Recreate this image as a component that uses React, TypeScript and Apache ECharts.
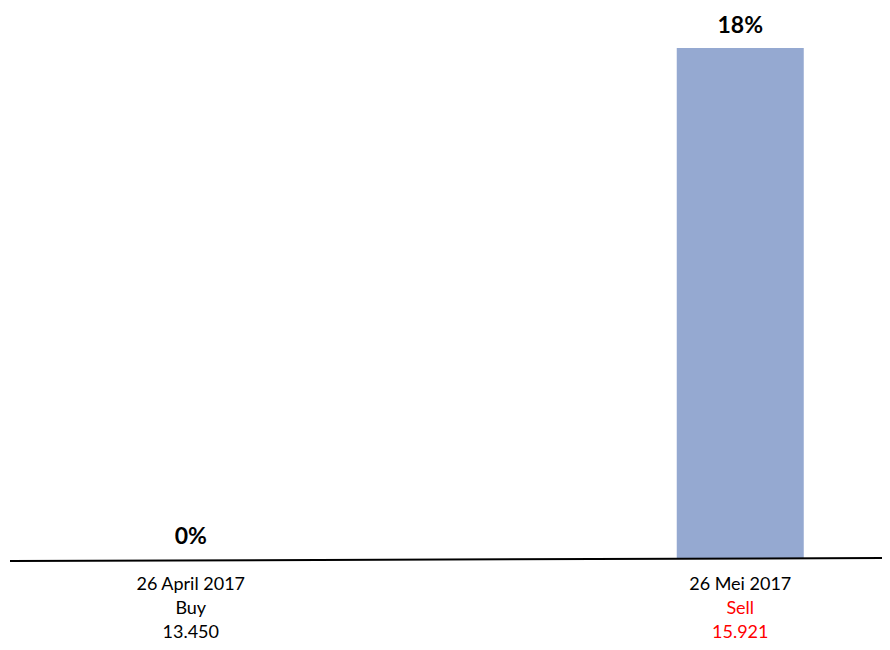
import React, { useEffect, useRef } from "react";
import * as echarts from "echarts";

const dates = ["26 April 2017", "26 Mei 2017"];
const actions = ["Buy", "Sell"];
const prices = ["13.450", "15.921"];
const returns = [0, 18];

export default function App() {
  const ref = useRef<HTMLDivElement>(null);
  useEffect(() => {
    if (!ref.current) return;
    const chart = echarts.init(ref.current, null, { renderer: "svg" });
    chart.setOption({
      animation: false,
      textStyle: { fontFamily: "Lato, 'Open Sans', sans-serif" },
      grid: { left: -84, width: 1099, top: 48, bottom: 91, outerBoundsMode: "none", containLabel: false },
      xAxis: {
        type: "category",
        data: dates,
        axisLine: { show: false },
        axisTick: { show: false },
        axisLabel: {
          margin: 12,
          interval: 0,
          formatter: (v: string, i: number) => {
            const s = i === 1 ? "r" : "k";
            return `{k|${v}}\n{${s}|${actions[i]}}\n{${s}|${prices[i]}}`;
          },
          rich: {
            k: { color: "#000", fontSize: 18, lineHeight: 24, fontFamily: "Lato, sans-serif" },
            r: { color: "#ff0000", fontSize: 18, lineHeight: 24, fontFamily: "Lato, sans-serif" },
          },
        },
      },
      yAxis: {
        type: "value",
        min: 0,
        max: 18,
        show: false,
        splitLine: { show: false },
      },
      series: [
        {
          type: "bar",
          data: returns,
          barWidth: 127,
          itemStyle: { color: "#95a9d1" },
          label: {
            show: true,
            position: "top",
            distance: 13,
            formatter: (p: any) => `${p.value}%`,
            fontSize: 23,
            fontWeight: "bold",
            color: "#000",
            fontFamily: "Lato, sans-serif",
          },
        },
      ],
      graphic: [
        {
          type: "line",
          shape: { x1: 10, y1: 561, x2: 888, y2: 558 },
          style: { stroke: "#000", lineWidth: 2 },
          z: 10,
        },
      ],
    });
    return () => chart.dispose();
  }, []);
  return <div ref={ref} style={{ width: 890, height: 650, margin: -8 }} />;
}
